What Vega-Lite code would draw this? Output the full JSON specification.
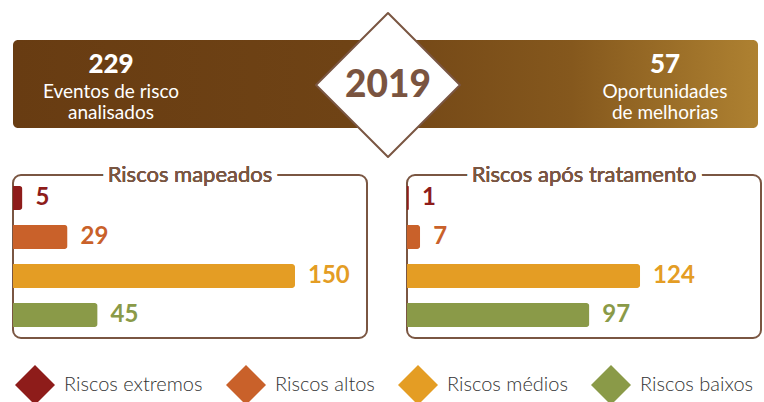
{
  "$schema": "https://vega.github.io/schema/vega-lite/v6.json",
  "padding": {"left": 12, "top": 0, "right": 0, "bottom": 0},
  "background": "white",
  "bounds": "flush",
  "spacing": 0,
  "config": {"view": {"stroke": null}, "axis": {"disable": true}},
  "datasets": {
    "header": [
      {"key": "left", "num": 229, "label": "Eventos de risco\nanalisados"},
      {"key": "right", "num": 57, "label": "Oportunidades\nde melhorias"}
    ],
    "year": [{"key": "mid", "year": "2019"}],
    "mapeados": [
      {"cat": "Riscos extremos", "n": 5},
      {"cat": "Riscos altos", "n": 29},
      {"cat": "Riscos médios", "n": 150},
      {"cat": "Riscos baixos", "n": 45}
    ],
    "tratamento": [
      {"cat": "Riscos extremos", "n": 1},
      {"cat": "Riscos altos", "n": 7},
      {"cat": "Riscos médios", "n": 124},
      {"cat": "Riscos baixos", "n": 97}
    ]
  },
  "vconcat": [
    {
      "width": 752,
      "height": 175,
      "layer": [
        {
          "data": {"name": "year"},
          "mark": {"type": "rect", "cornerRadius": 5,
            "fill": {"gradient": "linear", "x1": 0, "x2": 1, "y1": 0, "y2": 0,
              "stops": [{"offset": 0, "color": "#683c12"}, {"offset": 0.45, "color": "#6f4315"}, {"offset": 0.75, "color": "#85581d"}, {"offset": 1, "color": "#ae8131"}]}},
          "encoding": {"x": {"value": 0}, "x2": {"value": 745}, "y": {"value": 40}, "y2": {"value": 128}}
        },
        {
          "data": {"name": "year"},
          "mark": {"type": "point", "shape": "diamond", "filled": true, "fill": "white", "stroke": "#7a5642", "strokeWidth": 2, "strokeJoin": "round", "opacity": 1, "size": 20736},
          "encoding": {"x": {"field": "key", "type": "nominal", "scale": {"domain": ["left", "mid", "right"], "range": [98, 652], "padding": 0}}, "y": {"value": 85}}
        },
        {
          "data": {"name": "year"},
          "mark": {"type": "text", "font": "Lato", "fontWeight": 900, "fontSize": 37, "color": "#7a5440", "baseline": "middle", "align": "center"},
          "encoding": {"x": {"field": "key", "type": "nominal"}, "y": {"value": 86}, "text": {"field": "year"}}
        },
        {
          "data": {"name": "header"},
          "mark": {"type": "text", "font": "Lato", "fontWeight": 900, "fontSize": 26, "color": "white", "baseline": "middle", "align": "center"},
          "encoding": {"x": {"field": "key", "type": "nominal"}, "y": {"value": 65}, "text": {"field": "num"}}
        },
        {
          "data": {"name": "header"},
          "mark": {"type": "text", "font": "Lato", "fontSize": 19, "lineHeight": 21, "lineBreak": "\n", "color": "white", "baseline": "middle", "align": "center"},
          "encoding": {"x": {"field": "key", "type": "nominal"}, "y": {"value": 92}, "text": {"field": "label"}}
        }
      ]
    },
    {
      "bounds": "flush",
      "hconcat": [
        {
          "width": 354,
          "height": 163,
          "view": {"stroke": "#7a5642", "strokeWidth": 2, "cornerRadius": 8},
          "data": {"name": "mapeados"},
          "encoding": {
            "y": {"field": "cat", "type": "nominal", "scale": {"domain": ["Riscos extremos", "Riscos altos", "Riscos médios", "Riscos baixos"], "paddingInner": 0.385, "paddingOuter": 0.28}},
            "color": {"field": "cat", "type": "nominal", "scale": {"domain": ["Riscos extremos", "Riscos altos", "Riscos médios", "Riscos baixos"], "range": ["#8e1c1a", "#c9612a", "#e49d24", "#8a9a48"]},
              "legend": {"orient": "none", "legendX": 2, "legendY": 190, "direction": "horizontal", "title": null, "symbolType": "diamond", "symbolSize": 1600, "symbolStrokeWidth": 0, "labelFont": "Lato", "labelFontWeight": 300, "labelFontSize": 20, "labelColor": "#333333", "labelOffset": 9, "columnPadding": 23, "padding": 0, "labelLimit": 300}}
          },
          "layer": [
            {
              "mark": {"type": "bar", "cornerRadiusEnd": 3},
              "encoding": {"x": {"field": "n", "type": "quantitative", "scale": {"domain": [0, 188.3], "nice": false}}}
            },
            {
              "mark": {"type": "text", "font": "Lato", "fontWeight": "bold", "fontSize": 24, "align": "left", "baseline": "middle", "dx": 13},
              "encoding": {"x": {"field": "n", "type": "quantitative"}, "text": {"field": "n"}}
            },
            {
              "mark": {"type": "text", "font": "Lato", "fontSize": 22, "align": "center", "baseline": "middle", "fill": "white", "stroke": "white", "strokeWidth": 12, "strokeJoin": "round"},
              "encoding": {"x": {"datum": 94.15}, "y": {"value": 0}, "text": {"value": "Riscos mapeados"}, "color": {"value": "white"}}
            },
            {
              "mark": {"type": "text", "font": "Lato", "fontSize": 22, "align": "center", "baseline": "middle"},
              "encoding": {"x": {"datum": 94.15}, "y": {"value": 0}, "text": {"value": "Riscos mapeados"}, "color": {"value": "#7a5642"}}
            }
          ]
        },
        {
          "width": 354,
          "height": 163,
          "view": {"stroke": "#7a5642", "strokeWidth": 2, "cornerRadius": 8},
          "data": {"name": "tratamento"},
          "encoding": {
            "y": {"field": "cat", "type": "nominal", "scale": {"domain": ["Riscos extremos", "Riscos altos", "Riscos médios", "Riscos baixos"], "paddingInner": 0.385, "paddingOuter": 0.28}},
            "color": {"field": "cat", "type": "nominal", "scale": {"domain": ["Riscos extremos", "Riscos altos", "Riscos médios", "Riscos baixos"], "range": ["#8e1c1a", "#c9612a", "#e49d24", "#8a9a48"]}, "legend": null}
          },
          "layer": [
            {
              "mark": {"type": "bar", "cornerRadiusEnd": 3},
              "encoding": {"x": {"field": "n", "type": "quantitative", "scale": {"domain": [0, 188.3], "nice": false}}}
            },
            {
              "mark": {"type": "text", "font": "Lato", "fontWeight": "bold", "fontSize": 24, "align": "left", "baseline": "middle", "dx": 13},
              "encoding": {"x": {"field": "n", "type": "quantitative"}, "text": {"field": "n"}}
            },
            {
              "mark": {"type": "text", "font": "Lato", "fontSize": 22, "align": "center", "baseline": "middle", "fill": "white", "stroke": "white", "strokeWidth": 12, "strokeJoin": "round"},
              "encoding": {"x": {"datum": 94.15}, "y": {"value": 0}, "text": {"value": "Riscos após tratamento"}, "color": {"value": "white"}}
            },
            {
              "mark": {"type": "text", "font": "Lato", "fontSize": 22, "align": "center", "baseline": "middle"},
              "encoding": {"x": {"datum": 94.15}, "y": {"value": 0}, "text": {"value": "Riscos após tratamento"}, "color": {"value": "#7a5642"}}
            }
          ]
        }
      ],
      "spacing": 40,
      "resolve": {"scale": {"color": "independent", "x": "independent", "y": "independent"}, "legend": {"color": "independent"}}
    }
  ]
}
